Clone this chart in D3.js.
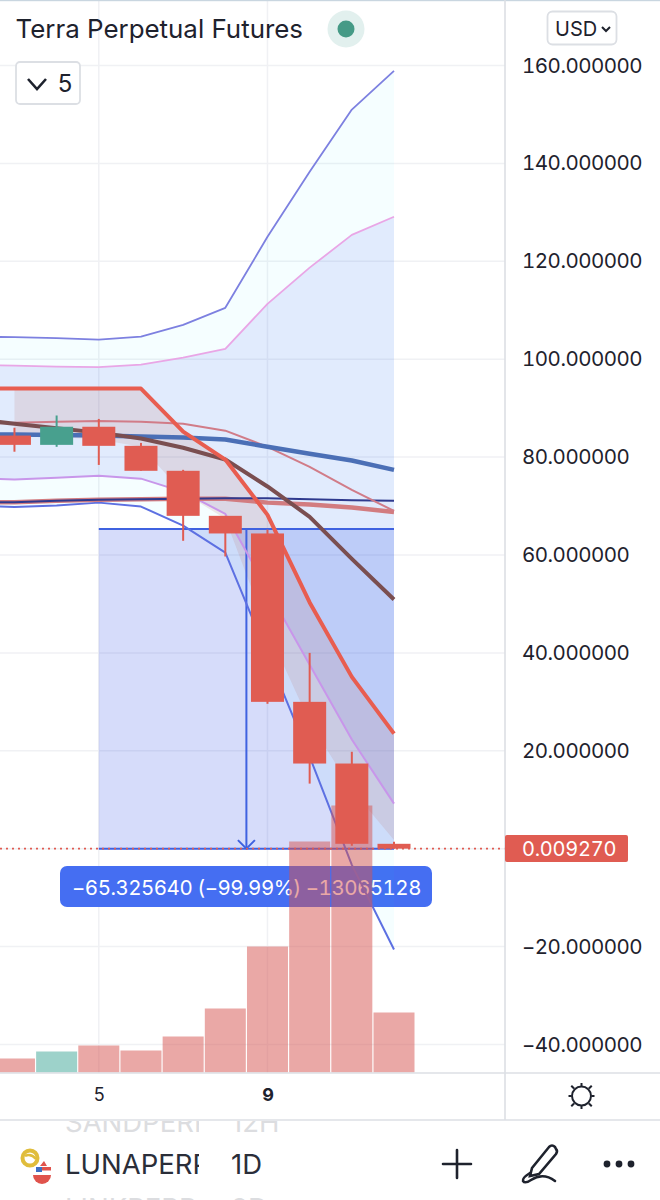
<!DOCTYPE html>
<html><head><meta charset="utf-8">
<script src="https://cdn.jsdelivr.net/npm/d3@7/dist/d3.min.js"></script>
<style>
html,body{margin:0;padding:0;background:#fff}
svg{display:block;font-family:Inter,"Noto Sans",sans-serif}
.tn{font-variant-numeric:tabular-nums;font-feature-settings:"tnum" 1}
</style></head><body><div id="c"></div>
<script>
const days=[2,3,4,5,6,7,8,9,10,11,12];
const candleDays=[3,4,5,6,7,8,9,10,11,12];
const opens=[84.4,82.5,86.2,82.3,77.2,68.0,64.4,30.0,17.4,1.0];
const highs=[86.0,88.5,87.8,82.9,77.4,68.0,65.2,40.0,19.8,1.4];
const lows=[81.1,82.1,78.4,77.2,62.9,59.7,29.6,13.3,0.6,0.0];
const closes=[82.5,86.2,82.3,77.2,68.0,64.4,30.0,17.4,1.0,0.009];
const volumes=[14,21,27,22,36,64,126,231,267,60];
const upperBlue=[104.6,104.5,104.3,104.0,104.6,107.0,110.5,125.0,138.3,151.0,158.9];
const upperPink=[98.8,98.7,98.5,98.4,98.9,100.3,102.1,111.3,118.7,125.4,129.1];
const lowerPink=[75.8,75.4,75.8,76.2,75.6,72.9,68.4,52.9,37.6,22.3,9.2];
const lowerBlue=[70.1,69.8,70.1,70.7,69.9,66.0,60.5,39.6,18.8,-3.3,-20.6];
const thickBlue=[84.6,84.6,84.5,84.4,84.2,84.0,83.6,82.1,80.7,79.3,77.4];
const brown=[87.8,86.8,85.9,85.0,83.8,81.9,79.5,74.0,67.8,59.2,50.9];
const thickRed=[94.0,94.0,94.0,94.0,94.0,85.2,79.5,68.2,50.3,35.1,23.5];
const thinRed=[86.8,87.0,87.2,87.4,87.2,86.8,85.4,82.1,78.0,73.3,69.0];
const paleRed=[70.7,70.8,71.1,71.3,71.4,71.5,71.5,70.7,70.3,69.7,68.8];
const navy=[70.7,70.8,71.1,71.3,71.4,71.5,71.6,71.6,71.4,71.2,71.1];
const shadeDays=[3,4,5,6,7,8,9,10,11,12];
const shadeTop=[94.0,94.0,94.0,94.0,85.2,79.5,68.2,50.3,35.1,23.5];
const shadeBottom=[84.2,84.1,83.6,82.1,72.7,67.4,44.7,25.9,12.1,1.8];
const priceTicks=[160,140,120,100,80,60,40,20,-20,-40];
const gridPrices=[160,140,120,100,80,60,40,20,0,-20,-40];
const dayTicks=[5,9];
const measureStartDay=5, measureEndDay=12, measureHigh=65.32564, measureLow=0.00927;
const measureLabel="\u221265.325640 (\u221299.99%) \u221213065128";
const lastPrice="0.009270";
const title="Terra Perpetual Futures";

const W=660,H=1200;
const svg=d3.select("#c").append("svg").attr("width",W).attr("height",H);
const x=d3.scaleLinear().domain([5,12]).range([98.8,394]);
const y=d3.scaleLinear().domain([-40,160]).range([1044.5,65.5]);
const yv=d3.scaleLinear().domain([0,300]).range([1072.5,772.5]);
const barW=41,bodyW=33;
const ink="#1e222d",rule="#dcdfe4",grid="#f0f1f4",red="#e05c52",green="#48a08e";

const defs=svg.append("defs");
defs.append("clipPath").attr("id","plot").append("rect").attr("x",0).attr("y",0).attr("width",505).attr("height",1073);
defs.append("clipPath").attr("id","nameClip").append("rect").attr("x",0).attr("y",1121).attr("width",199).attr("height",79);
defs.append("clipPath").attr("id","listClip").append("rect").attr("x",0).attr("y",1121).attr("width",660).attr("height",79);

const layer=()=>svg.append("g").attr("clip-path","url(#plot)");
// grid
const gridG=layer();
gridG.append("g").selectAll("line").data(gridPrices).join("line")
 .attr("x1",0).attr("x2",505).attr("y1",d=>y(d)).attr("y2",d=>y(d)).attr("stroke",grid).attr("stroke-width",1.5);
gridG.append("g").selectAll("line").data(dayTicks).join("line")
 .attr("x1",d=>x(d)).attr("x2",d=>x(d)).attr("y1",0).attr("y2",1073).attr("stroke",grid).attr("stroke-width",1.5);

// measure tool
layer().append("rect").attr("x",x(measureStartDay)).attr("width",x(measureEndDay)-x(measureStartDay))
 .attr("y",y(measureHigh)).attr("height",y(measureLow)-y(measureHigh)).attr("fill","rgba(30,60,225,.18)");
// measure label
const lab=svg.append("g");
lab.append("rect").attr("x",60).attr("y",866).attr("width",372).attr("height",41).attr("rx",7).attr("fill","#456ef2");
lab.append("text").attr("class","tn").attr("x",246.5).attr("y",895).attr("text-anchor","middle").attr("fill","#fff")
 .attr("font-size",20.5).attr("letter-spacing",-0.5).text(measureLabel);

// band fills
const area=(top,bot,ds)=>d3.area().x((d,i)=>x(ds[i])).y0((d,i)=>y(bot[i])).y1((d,i)=>y(top[i]))(top);
const bands=layer();
bands.append("path").attr("d",area(upperBlue,upperPink,days)).attr("fill","rgba(0,220,255,.04)");
bands.append("path").attr("d",area(upperPink,lowerPink,days)).attr("fill","rgba(20,100,240,.13)");
bands.append("path").attr("d",area(lowerPink,lowerBlue,days)).attr("fill","rgba(0,220,255,.04)");
bands.append("path").attr("d",area(shadeTop,shadeBottom,shadeDays)).attr("fill","rgba(190,120,110,.17)");

// measure lines
const ml=svg.append("g").attr("stroke","#3f62e0").attr("fill","none");
const xMid=x((measureStartDay+measureEndDay)/2);
ml.append("line").attr("x1",x(measureStartDay)).attr("x2",x(measureEndDay)).attr("y1",y(measureHigh)).attr("y2",y(measureHigh)).attr("stroke-width",2);
ml.append("line").attr("x1",x(measureStartDay)).attr("x2",x(measureEndDay)).attr("y1",y(measureLow)).attr("y2",y(measureLow)).attr("stroke-width",2);
ml.append("line").attr("x1",xMid).attr("x2",xMid).attr("y1",y(measureHigh)).attr("y2",y(measureLow)).attr("stroke-width",2);
ml.append("path").attr("d",`M${xMid-8.5},${y(measureLow)-8.5}L${xMid},${y(measureLow)}L${xMid+8.5},${y(measureLow)-8.5}`).attr("stroke-width",2);

// price line dotted
layer().append("line").attr("x1",0).attr("x2",505).attr("y1",y(measureLow)).attr("y2",y(measureLow))
 .attr("stroke",red).attr("stroke-width",1.6).attr("stroke-dasharray","2 4");

// indicator lines
const line=d3.line().x((d,i)=>x(days[i])).y(d=>y(d));
const lines=layer().attr("fill","none").attr("stroke-linejoin","round");
[[upperBlue,"#7d80e0",1.8],[upperPink,"#e9a6e6",1.8],[lowerPink,"#c896ea",2],[lowerBlue,"#5d70e2",2],
 [paleRed,"#d27c80",4.5],[navy,"#2f3a8e",2],[thinRed,"#d17c88",2],[thickBlue,"#4b6fb6",4.5],[brown,"#7a4e50",4],[thickRed,"#e85d50",4]]
 .forEach(([v,c,w])=>lines.append("path").attr("d",line(v)).attr("stroke",c).attr("stroke-width",w));

// volumes
layer().selectAll("rect").data(volumes).join("rect")
 .attr("x",(d,i)=>x(candleDays[i])-barW/2).attr("width",barW)
 .attr("y",d=>yv(d)).attr("height",d=>yv(0)-yv(d))
 .attr("fill",(d,i)=>closes[i]>=opens[i]?"rgba(60,165,150,.5)":"rgba(214,82,78,.5)");

// candles
const cg=layer();
candleDays.forEach((d,i)=>{
 const col=closes[i]>=opens[i]?green:red;
 cg.append("line").attr("x1",x(d)).attr("x2",x(d)).attr("y1",y(highs[i])).attr("y2",y(lows[i])).attr("stroke",col).attr("stroke-width",2);
 const t=y(Math.max(opens[i],closes[i])),b=y(Math.min(opens[i],closes[i]));
 cg.append("rect").attr("x",x(d)-bodyW/2).attr("width",bodyW).attr("y",t).attr("height",b-t).attr("fill",col);
});

// frame
svg.append("rect").attr("width",W).attr("height",1.2).attr("fill","#c9d6e0");
svg.append("line").attr("x1",505).attr("x2",505).attr("y1",0).attr("y2",1120).attr("stroke",rule).attr("stroke-width",1.6);
svg.append("line").attr("x1",0).attr("x2",660).attr("y1",1073).attr("y2",1073).attr("stroke",rule).attr("stroke-width",1.6);
svg.append("line").attr("x1",0).attr("x2",660).attr("y1",1120).attr("y2",1120).attr("stroke",rule).attr("stroke-width",1.6);

// y axis
const yAxis=d3.axisRight(y).tickValues(priceTicks).tickSize(0).tickPadding(17)
 .tickFormat(d=>(d<0?"\u2212":"")+Math.abs(d).toFixed(6));
const ya=svg.append("g").attr("transform","translate(505,0)").call(yAxis);
ya.select(".domain").remove();
ya.selectAll("text").attr("class","tn").attr("font-size",20.5).attr("fill",ink).attr("font-family","Inter").attr("letter-spacing",-0.5);

// last price tag
svg.append("rect").attr("x",505).attr("y",835).attr("width",123).attr("height",27).attr("rx",2).attr("fill",red);
svg.append("text").attr("class","tn").attr("x",522).attr("y",856).attr("font-size",20).attr("fill","#fff").attr("letter-spacing",-0.25).text(lastPrice);

// x axis
const xAxis=d3.axisBottom(x).tickValues(dayTicks).tickSize(0).tickPadding(15).tickFormat(d3.format("d"));
const xa=svg.append("g").attr("transform","translate(0,1073)").call(xAxis);
xa.select(".domain").remove();
xa.selectAll("text").attr("font-size",18).attr("fill",ink).attr("font-family","Inter").attr("font-weight",d=>d===9?700:400);

// header
svg.append("text").attr("x",15.5).attr("y",38).attr("font-size",25.9).attr("fill",ink).text(title);
svg.append("circle").attr("cx",346).attr("cy",29).attr("r",18.5).attr("fill","#e2f0ee");
svg.append("circle").attr("cx",346).attr("cy",29).attr("r",8.5).attr("fill","#459a86");
svg.append("rect").attr("x",16).attr("y",62).attr("width",64).attr("height",42).attr("rx",4).attr("fill","#fff").attr("stroke",rule).attr("stroke-width",1.8);
svg.append("path").attr("d","M28,79L37,89L46,79").attr("fill","none").attr("stroke",ink).attr("stroke-width",2.6);
svg.append("text").attr("x",65).attr("y",92).attr("text-anchor","middle").attr("font-size",24).attr("fill",ink).text("5");
svg.append("rect").attr("x",547.5).attr("y",11.5).attr("width",69).attr("height",33).attr("rx",5).attr("fill","#fff").attr("stroke",rule).attr("stroke-width",1.8);
svg.append("text").attr("x",555).attr("y",36).attr("font-size",20).attr("fill",ink).text("USD");
svg.append("path").attr("d","M602,27L606,31L610,27").attr("fill","none").attr("stroke",ink).attr("stroke-width",2);

// sun
const sun=svg.append("g").attr("transform","translate(581.5,1096)").attr("fill","none").attr("stroke",ink).attr("stroke-width",2);
sun.append("circle").attr("r",9.5);
d3.range(8).forEach(i=>{const a=i*Math.PI/4;const r0=i%2?10.5:10,r1=i%2?14.5:13;
 sun.append("line").attr("x1",r0*Math.cos(a)).attr("y1",r0*Math.sin(a)).attr("x2",r1*Math.cos(a)).attr("y2",r1*Math.sin(a));});

// bottom bar
const list=svg.append("g").attr("clip-path","url(#listClip)");
const names=list.append("g").attr("clip-path","url(#nameClip)");
names.append("text").attr("x",65).attr("y",1132).attr("font-size",27.5).attr("fill","#dcdde0").text("SANDPERP");
names.append("text").attr("x",65).attr("y",1174).attr("font-size",27.5).attr("fill","#2a2e39").text("LUNAPERP");
names.append("text").attr("x",65).attr("y",1218).attr("font-size",27.5).attr("fill","#dcdde0").text("LINKPERP");
list.append("text").attr("x",231).attr("y",1132).attr("font-size",27.5).attr("fill","#dcdde0").text("12H");
list.append("text").attr("x",231).attr("y",1174).attr("font-size",27.5).attr("fill","#2a2e39").text("1D");
list.append("text").attr("x",231).attr("y",1218).attr("font-size",27.5).attr("fill","#dcdde0").text("3D");

// logos
svg.append("circle").attr("cx",30).attr("cy",1158).attr("r",7.5).attr("fill","#fff").attr("stroke","#e0bd3c").attr("stroke-width",4);
svg.append("path").attr("d","M25,1156Q31,1153 36,1159").attr("fill","none").attr("stroke","#e0bd3c").attr("stroke-width",2.5);
const flagY=1170;
svg.append("path").attr("d",`M33,${flagY+5}A9,9 0 0 0 51,${flagY+5}Z`).attr("fill","#e0534c");
svg.append("rect").attr("x",38).attr("y",flagY-3).attr("width",13).attr("height",3.5).attr("fill","#e0534c");
svg.append("rect").attr("x",36).attr("y",flagY-3).attr("width",6).attr("height",5).attr("fill","#3d6fc4");
svg.append("path").attr("d",`M44,${flagY-9}L40,${flagY-4}H47Z`).attr("fill","#e0534c");

// plus, pen, dots
const tool=svg.append("g").attr("stroke","#1e222d").attr("fill","none").attr("stroke-width",2.6).attr("stroke-linecap","round");
tool.append("path").attr("d","M443,1164H471M457,1150V1178");
tool.append("path").attr("d","M532,1168L549,1147Q552,1144 555,1147L556,1149Q558,1151 556,1154L539,1174L530,1176Z");
tool.append("path").attr("d","M530,1173Q522,1178 523,1181Q525,1184 531,1180Q543,1172 555,1181");
svg.append("g").selectAll("circle").data([607,619,631]).join("circle").attr("cx",d=>d).attr("cy",1164).attr("r",3.4).attr("fill","#1e222d");
</script></body></html>
